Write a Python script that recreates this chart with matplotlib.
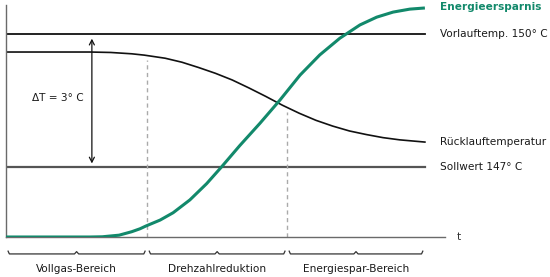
import matplotlib.pyplot as plt
import matplotlib.transforms as mtransforms
import numpy as np

# Zeitachse (beliebige Einheit 0..100)
t = [0, 20, 25, 30, 33, 38, 42, 46, 50, 54, 58, 62, 66, 70, 74, 78, 82, 86, 90, 94, 100]
# Ruecklauftemperatur in Grad C
ruecklauf = [149.59, 149.59, 149.58, 149.55, 149.52, 149.45, 149.36, 149.24, 149.11,
             148.96, 148.78, 148.59, 148.39, 148.21, 148.05, 147.92, 147.81, 147.73,
             147.66, 147.61, 147.56]
# Energieersparnis in % (eigene Zeitpunkte)
t_ersparnis = [0, 20, 23, 27, 30, 32, 33.4, 36.8, 39.9, 43.9, 47.9, 51.5, 55.8, 60.6,
               65.4, 70.2, 74.9, 79.7, 84.5, 88.5, 92.4, 96.4, 100]
ersparnis = [0, 0, 0.1, 0.8, 2.3, 3.6, 4.8, 7.4, 10.6, 16.2, 23.3, 30.7, 39.9, 49.6,
             59.8, 70.7, 79.5, 86.8, 92.6, 96.0, 98.2, 99.5, 100]
vorlauf = 150
sollwert = 147
grenzen = [0, 33.7, 67.1, 100]
bereiche = ['Vollgas-Bereich', 'Drehzahlreduktion', 'Energiespar-Bereich']

gruen = '#12896b'
grau = '#6a6a6a'
txt = '#1a1a1a'
fs = 7.6

fig = plt.figure(figsize=(5.5, 2.77), dpi=100)
ax = fig.add_axes([6/550, 40/277, 439/550, 232/277])
ax.set_xlim(0, 104.8)
ax.set_ylim(145.42, 150.65)
ax2 = ax.twinx()
ax2.set_ylim(0, 101.3)
ax2.axis('off')
for s in ['top', 'right']:
    ax.spines[s].set_visible(False)
for s in ['left', 'bottom']:
    ax.spines[s].set_color(grau)
    ax.spines[s].set_linewidth(1)
ax.set_xticks([])
ax.set_yticks([])

# Linien
ax.plot([t[0], t[-1]], [vorlauf, vorlauf], color='#111111', lw=1.3)
ax.plot([t[0], t[-1]], [sollwert, sollwert], color='#555555', lw=1.6)
ax.plot(t, ruecklauf, color='#111111', lw=1.2)
ax2.plot(t_ersparnis, ersparnis, color=gruen, lw=2.2, solid_capstyle='butt')

# gestrichelte Grenzen
for g in grenzen[1:3]:
    top = np.interp(g, t, ruecklauf) - 0.1
    ax.plot([g, g], [145.42, top], color='#aaaaaa', lw=1, ls=(0, (3, 2.5)))

# Pfeil Delta T
ax.annotate('', xy=(20.5, vorlauf), xytext=(20.5, sollwert),
            arrowprops=dict(arrowstyle='<->,head_length=0.35,head_width=0.18',
                            color='#111111', lw=0.9, shrinkA=2.5, shrinkB=3.5))
ax.text(18.6, 148.55, '\u0394T = 3\u00b0 C', fontsize=fs, ha='right', va='center', color=txt)

# Beschriftung rechts
xl = 103.6
ax2.text(xl, ersparnis[-1] + 0.3, 'Energieersparnis', fontsize=fs, fontweight='bold',
         color=gruen, va='center', ha='left', clip_on=False)
ax.text(xl, vorlauf, 'Vorlauftemp. 150\u00b0 C', fontsize=fs, va='center', ha='left', color=txt)
ax.text(xl, ruecklauf[-1], 'R\u00fccklauftemperatur', fontsize=fs, va='center', ha='left', color=txt)
ax.text(xl, sollwert, 'Sollwert 147\u00b0 C', fontsize=fs, va='center', ha='left', color=txt)
ax.text(108.1, 145.42, 't', fontsize=fs, va='center', ha='center', color='#333333')

# Klammern unten
trans = mtransforms.blended_transform_factory(ax.transData, ax.transAxes)
yb = -0.073
for i, name in enumerate(bereiche):
    a = grenzen[i] + 0.5
    b = grenzen[i + 1] - 0.5
    m = (a + b) / 2
    ax.plot([a, a + 0.3, m - 0.5, m, m + 0.5, b - 0.3, b],
            [yb + 0.012, yb, yb, yb + 0.01, yb, yb, yb + 0.012],
            color='#333333', lw=0.9, transform=trans, clip_on=False)
    ax.text(m, -0.138, name, fontsize=fs, ha='center', va='center',
            transform=trans, color=txt)

fig.savefig('out.png', dpi=100)
